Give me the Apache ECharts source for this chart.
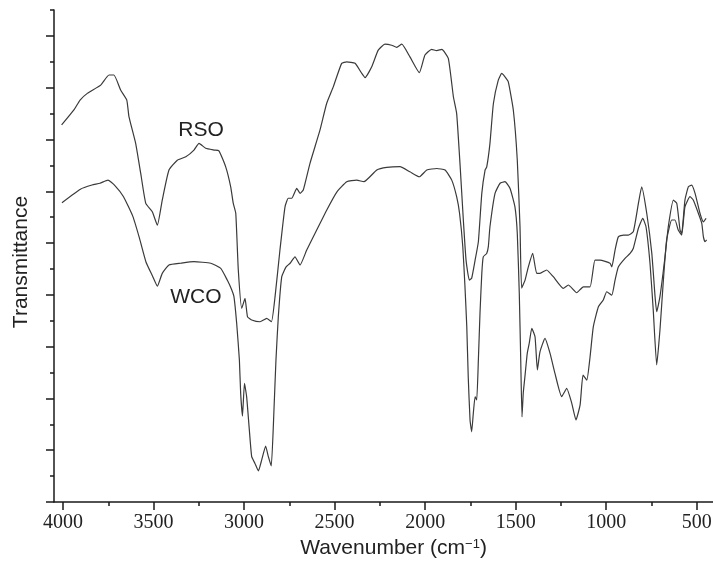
<!DOCTYPE html>
<html>
<head>
<meta charset="utf-8">
<script src="https://cdn.jsdelivr.net/npm/echarts@6/dist/echarts.min.js"></script>
<style>
html,body{margin:0;padding:0;background:#fff;}
#c{width:713px;height:567px;}
</style>
</head>
<body>
<div id="c"></div>
<script>
// ---- tick labels ----
const xMajorTicks = [500, 1000, 1500, 2000, 2500, 3000, 3500, 4000];
const xMinorTicks = [750, 1250, 1750, 2250, 2750, 3250, 3750];
const yMajorTicks = [0, 2, 4, 6, 8, 10, 12, 14, 16, 18];
const yMinorTicks = [1, 3, 5, 7, 9, 11, 13, 15, 17, 19];

// ---- series labels ----
const seriesNames = ['RSO', 'WCO'];
const rsoLabelAt = [3238, 14.36];
const wcoLabelAt = [3266, 7.92];

// ---- RSO spectrum ----
const rsoWavenumber = [4008,3940,3906,3866,3792,3746,3719,3682,3648,3636,
3599,3571,3543,3507,3479,3452,3415,3369,3322,3277,
3249,3212,3166,3139,3102,3074,3060,3046,3032,3013,
2995,2981,2958,2912,2875,2849,2829,2802,2774,2756,
2737,2709,2691,2673,2636,2581,2544,2507,2461,2433,
2387,2350,2332,2295,2259,2222,2185,2157,2129,2084,
2032,2001,1964,1936,1908,1872,1844,1826,1807,1789,
1774,1756,1743,1724,1706,1687,1669,1660,1642,1623,
1596,1577,1559,1541,1513,1491,1476,1467,1448,1430,
1406,1384,1366,1329,1292,1237,1209,1163,1126,1089,
1062,1034,979,969,951,933,905,878,850,822,
804,776,748,730,721,703,675,657,629,610,
592,583,565,546,528,509,482,463,448];
const rsoTransmittance = [14.56,15.14,15.52,15.78,16.10,16.49,16.49,15.91,15.52,14.88,
13.85,12.69,11.53,11.21,10.69,11.66,12.82,13.20,13.33,13.59,
13.85,13.66,13.59,13.56,12.95,12.17,11.54,11.15,8.96,7.48,
7.86,7.15,7.03,6.96,7.09,6.96,7.93,9.73,11.40,11.73,
11.73,12.11,11.92,12.05,13.08,14.36,15.39,16.04,16.94,17.00,
16.94,16.55,16.39,16.81,17.45,17.68,17.64,17.56,17.68,17.19,
16.58,17.26,17.48,17.43,17.48,17.13,15.65,15.01,13.01,10.89,
9.34,8.57,8.64,9.34,10.05,11.92,12.82,12.93,13.85,15.39,
16.29,16.55,16.42,16.23,15.14,13.20,10.63,8.26,8.57,9.08,
9.60,8.83,8.83,8.96,8.70,8.25,8.38,8.08,8.31,8.31,
9.34,9.34,9.22,9.08,9.73,10.24,10.31,10.31,10.44,11.53,
12.17,11.15,9.60,7.93,7.35,7.93,9.47,10.63,11.66,11.53,
10.50,10.37,11.66,12.17,12.24,11.92,11.15,10.82,10.95];

// ---- WCO spectrum ----
const wcoWavenumber = [4006,3904,3840,3796,3752,3716,3666,3614,3578,3542,
3506,3479,3452,3415,3350,3277,3184,3129,3093,3068,
3056,3041,3026,3019,3009,2998,2986,2971,2958,2940,
2921,2903,2881,2866,2850,2835,2824,2811,2792,2768,
2746,2719,2691,2654,2599,2544,2488,2433,2378,2338,
2267,2212,2139,2084,2032,1991,1936,1890,1853,1826,
1810,1792,1780,1770,1762,1752,1743,1734,1724,1715,
1706,1697,1687,1679,1660,1651,1642,1614,1586,1559,
1531,1504,1491,1480,1472,1465,1458,1448,1436,1425,
1411,1393,1380,1366,1338,1310,1283,1246,1218,1190,
1167,1144,1128,1107,1089,1071,1043,1016,997,969,
951,933,896,868,850,822,798,780,758,740,
721,703,684,666,638,620,602,583,565,537,
519,491,472,463,454,445];
const wcoTransmittance = [11.56,12.08,12.24,12.31,12.43,12.24,11.79,11.02,10.19,9.27,
8.73,8.34,8.83,9.15,9.22,9.28,9.22,9.02,8.57,8.19,
7.93,6.90,5.48,4.20,3.32,4.58,4.07,2.78,1.75,1.49,
1.20,1.62,2.16,1.75,1.39,3.55,5.48,7.15,8.70,9.08,
9.22,9.47,9.15,9.73,10.50,11.27,11.97,12.37,12.43,12.37,
12.82,12.92,12.95,12.75,12.56,12.82,12.88,12.82,12.43,11.79,
11.15,9.86,8.31,6.77,4.84,3.17,2.71,3.42,4.07,3.94,
5.48,7.29,8.83,9.47,9.60,9.86,10.63,11.92,12.31,12.37,
12.11,11.40,10.37,8.06,5.48,3.29,4.21,4.90,5.74,6.13,
6.71,6.38,5.10,5.79,6.32,5.74,4.97,4.07,4.39,3.81,
3.17,3.75,4.90,4.71,5.61,6.77,7.54,7.80,8.12,7.99,
8.57,9.08,9.41,9.60,9.80,10.57,10.95,10.63,9.22,7.41,
5.29,6.64,8.57,10.12,10.89,10.89,10.50,10.31,11.40,11.79,
11.66,11.15,10.76,10.24,10.05,10.12];

const zip = (xs, ys) => xs.map((x, i) => [x, ys[i]]);

const axisColor = '#1a1a1a';
const lineColor = '#3a3a3a';
const sans = 'Liberation Sans';
const serif = 'Liberation Serif';
const gridBox = { left: 54, right: 0, top: 10, bottom: 65, containLabel: false, outerBoundsMode: 'none' };
const xRange = { min: 410, max: 4050 };
const yRange = { min: 0, max: 19 };

function labelPoint(name, at) {
  return {
    symbol: 'circle', symbolSize: 1, silent: true,
    itemStyle: { color: 'rgba(0,0,0,0)' },
    label: { show: true, position: 'inside', formatter: name,
      fontFamily: sans, fontSize: 21, color: '#222' },
    data: [{ coord: at }]
  };
}

const chart = echarts.init(document.getElementById('c'));
chart.setOption({
  animation: false,
  backgroundColor: '#fff',
  grid: [Object.assign({}, gridBox), Object.assign({}, gridBox)],
  xAxis: [{
    gridIndex: 0, type: 'value', inverse: true, min: xRange.min, max: xRange.max,
    axisLine: { lineStyle: { color: axisColor, width: 1.5 } },
    axisTick: { customValues: xMajorTicks, length: 8, lineStyle: { color: axisColor, width: 1.5 } },
    axisLabel: { customValues: xMajorTicks, margin: 11, fontFamily: serif, fontSize: 20, color: '#222',
      formatter: v => String(v) },
    splitLine: { show: false },
    name: '{t|Wavenumber (cm}{s|−1}{t|)}',
    nameLocation: 'middle', nameGap: 36,
    nameTextStyle: {
      padding: [0, 0, 0, 20],
      rich: {
        t: { fontFamily: sans, fontSize: 21, color: '#222' },
        s: { fontFamily: sans, fontSize: 13, color: '#222', verticalAlign: 'top' }
      }
    }
  }, {
    gridIndex: 1, type: 'value', inverse: true, min: xRange.min, max: xRange.max,
    axisLine: { show: false },
    axisTick: { customValues: xMinorTicks, length: 4, lineStyle: { color: axisColor, width: 1.5 } },
    axisLabel: { show: false },
    splitLine: { show: false }
  }],
  yAxis: [{
    gridIndex: 0, type: 'value', min: yRange.min, max: yRange.max,
    axisLine: { show: true, lineStyle: { color: axisColor, width: 1.5 } },
    axisTick: { show: true, customValues: yMajorTicks, length: 8, lineStyle: { color: axisColor, width: 1.5 } },
    axisLabel: { show: false },
    splitLine: { show: false },
    name: 'Transmittance', nameLocation: 'middle', nameRotate: 90, nameGap: 22,
    nameTextStyle: { fontFamily: sans, fontSize: 21, color: '#222', padding: [0, 12, 0, 0] }
  }, {
    gridIndex: 1, type: 'value', min: yRange.min, max: yRange.max,
    axisLine: { show: false },
    axisTick: { show: true, customValues: yMinorTicks, length: 4, lineStyle: { color: axisColor, width: 1.5 } },
    axisLabel: { show: false },
    splitLine: { show: false }
  }],
  series: [{
    name: seriesNames[0], type: 'line', xAxisIndex: 0, yAxisIndex: 0,
    data: zip(rsoWavenumber, rsoTransmittance),
    showSymbol: false, symbol: 'none', smooth: 0.15,
    lineStyle: { color: lineColor, width: 1.2 },
    markPoint: labelPoint(seriesNames[0], rsoLabelAt)
  }, {
    name: seriesNames[1], type: 'line', xAxisIndex: 0, yAxisIndex: 0,
    data: zip(wcoWavenumber, wcoTransmittance),
    showSymbol: false, symbol: 'none', smooth: 0.15,
    lineStyle: { color: lineColor, width: 1.2 },
    markPoint: labelPoint(seriesNames[1], wcoLabelAt)
  }]
});
</script>
</body>
</html>
